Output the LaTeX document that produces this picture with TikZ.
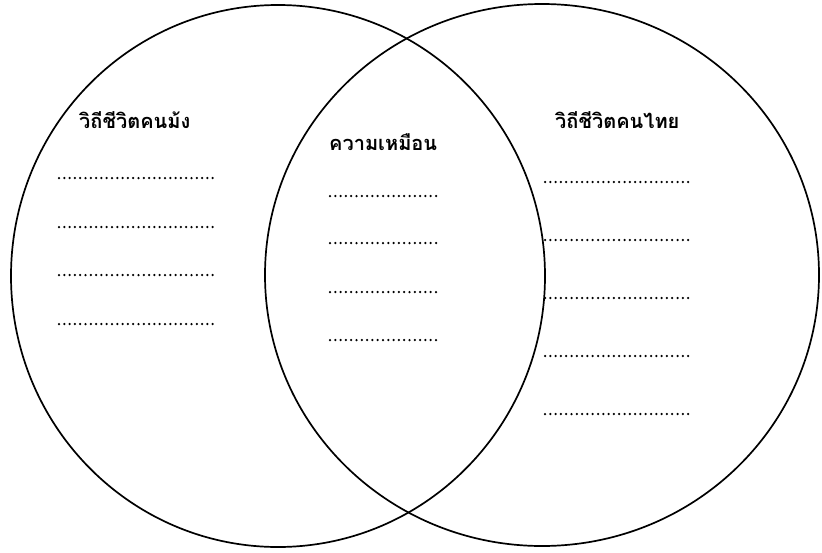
\documentclass[tikz,border=0pt]{standalone}
\usepackage{fontspec}
\newfontfamily\thaifont[Script=Thai]{Loma}
\usetikzlibrary{positioning}

\begin{document}
\begin{tikzpicture}[
    x=1pt, y=-1pt,
    ring/.style={draw=black, line width=1.7pt},
    title/.style={font=\thaifont\bfseries\fontsize{20}{22}\selectfont,
      inner sep=0pt, anchor=base west, text=black},
    blank/.style={line width=2.5pt, line cap=round,
      dash pattern=on 0pt off 5.3pt}
  ]
  \useasboundingbox (0,0) rectangle (822,552);

  % the two sets
  \draw[ring] (278,276) ellipse [x radius=267, y radius=271];
  \draw[ring] (542,275) ellipse [x radius=277, y radius=271];

  % headings
  \node[title] (hmong) at (79,128) {วิถีชีวิตคนม้ง};
  \node[title] (same)  at (329,150) {ความเหมือน};
  \node[title] (thai)  at (555,128) {วิถีชีวิตคนไทย};

  % lines to fill in
  \foreach \y in {178,227,275,324}
    \draw[blank] (59,\y) -- (213,\y);
  \foreach \y in {196,243,292,340}
    \draw[blank] (330,\y) -- (438,\y);
  \foreach \y in {182,240,298,356,414}
    \draw[blank] (545,\y) -- (689,\y);
\end{tikzpicture}
\end{document}
